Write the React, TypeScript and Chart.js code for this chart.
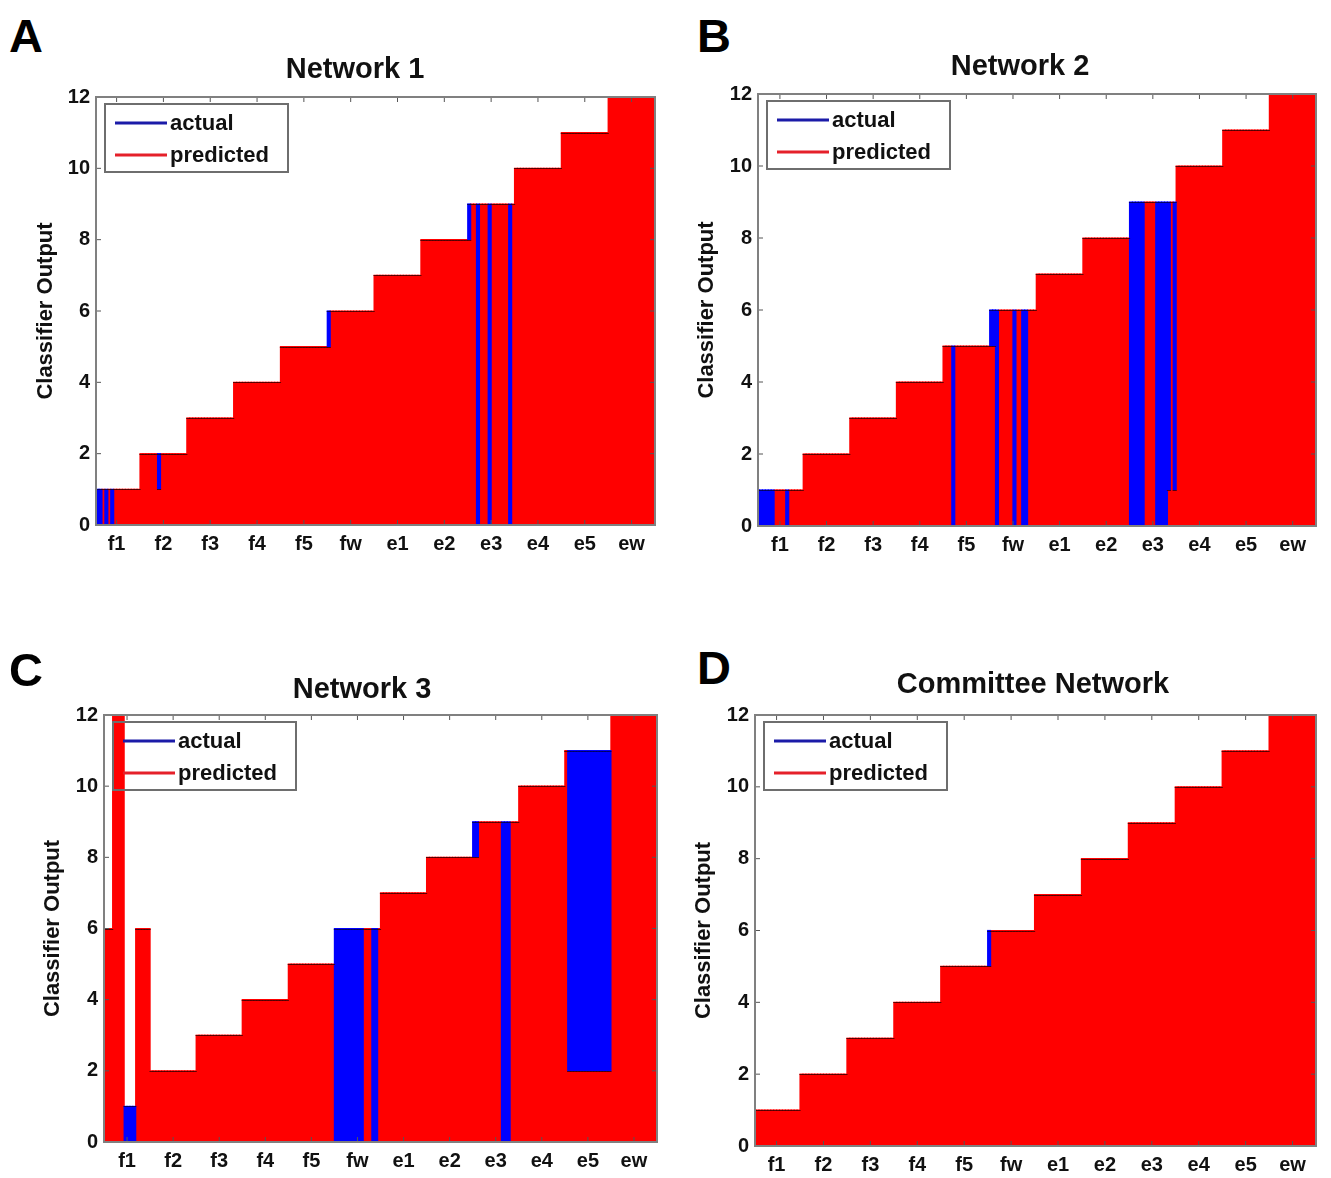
import React, { useEffect, useRef } from 'react';
import { Chart, registerables } from 'chart.js';

Chart.register(...registerables);

// ---------------- data ----------------
const classLabels = ['f1', 'f2', 'f3', 'f4', 'f5', 'fw', 'e1', 'e2', 'e3', 'e4', 'e5', 'ew'];
const classValues = [1, 2, 3, 4, 5, 6, 7, 8, 9, 10, 11, 12];
const samplesPerClass = [16, 16, 16, 16, 16, 16, 16, 16, 16, 16, 16, 16];
const yTicks = [0, 2, 4, 6, 8, 10, 12];

// misclassified runs: [classIndex, firstSample, lastSample, predictedValue]
const net1Runs = [
  [0, 0, 2, 0], [0, 4, 4, 0], [0, 6, 6, 0],
  [1, 6, 6, 1],
  [5, 0, 0, 5],
  [8, 0, 0, 8], [8, 3, 3, 0], [8, 7, 7, 0], [8, 14, 14, 0],
];
const net2Runs = [
  [0, 0, 5, 0], [0, 10, 10, 0],
  [4, 3, 3, 0],
  [5, 0, 1, 5], [5, 2, 2, 0], [5, 8, 8, 0], [5, 11, 12, 0],
  [8, 0, 4, 0], [8, 9, 12, 0], [8, 13, 13, 1], [8, 15, 15, 1],
];
const net3Runs = [
  [0, 0, 2, 6], [0, 3, 6, 12], [0, 7, 10, 0], [0, 11, 15, 6],
  [5, 0, 9, 0], [5, 13, 14, 0],
  [8, 0, 1, 8], [8, 10, 12, 0],
  [10, 1, 15, 2],
];
const net4Runs = [
  [5, 0, 0, 5],
];

// ---------------- styling ----------------
const FONT = '"Liberation Sans", Arial, Helvetica, sans-serif';
const BLUE = '#0000ff';
const RED = '#ff0000';

type Pt = { x: number; y: any };

function buildSeries(runs: number[][]) {
  // actual values that stay visible above the predicted bar are drawn as
  // floating bars [predicted, actual]; the predicted bars go from 0.
  const actual: Pt[] = [];
  const predicted: Pt[] = [];
  classValues.forEach((v, c) => {
    const n = samplesPerClass[c];
    for (let s = 0; s < n; s++) {
      const x = c + (s + 0.5) / n;
      let p = v;
      runs.forEach(([rc, a, b, pv]) => {
        if (rc === c && s >= a && s <= b) p = pv;
      });
      if (v > p) actual.push({ x, y: [p, v] });
      predicted.push({ x, y: p });
    }
  });
  return { actual, predicted };
}

type PanelCfg = {
  title: string;
  runs: number[][];
  canvas: { left: number; top: number; width: number; height: number };
  area: { l: number; t: number; r: number; b: number };
  yTitleX: number;
  xMin: number;
};

const panels: PanelCfg[] = [
  {
    title: 'Network 1', runs: net1Runs,
    canvas: { left: 0, top: 77, width: 670, height: 500 },
    area: { l: 96, t: 97, r: 655, b: 525 }, yTitleX: 46, xMin: 0.06,
  },
  {
    title: 'Network 2', runs: net2Runs,
    canvas: { left: 670, top: 74, width: 661, height: 500 },
    area: { l: 758, t: 94, r: 1316, b: 526 }, yTitleX: 707, xMin: 0.03,
  },
  {
    title: 'Network 3', runs: net3Runs,
    canvas: { left: 0, top: 695, width: 670, height: 483 },
    area: { l: 104, t: 715, r: 657, b: 1142 }, yTitleX: 53, xMin: 0,
  },
  {
    title: 'Committee Network', runs: net4Runs,
    canvas: { left: 670, top: 695, width: 661, height: 483 },
    area: { l: 755, t: 715, r: 1316, b: 1146 }, yTitleX: 704, xMin: 0.04,
  },
];

const framePlugin = {
  id: 'matlabFrame',
  afterDatasetsDraw(chart: any) {
    const { ctx, chartArea: a, scales } = chart;
    const line = (x1: number, y1: number, x2: number, y2: number) => {
      ctx.beginPath();
      ctx.moveTo(x1, y1);
      ctx.lineTo(x2, y2);
      ctx.stroke();
    };
    ctx.save();
    // dark outline along the top of each bar (line edges of the MATLAB plot)
    ctx.beginPath();
    ctx.rect(a.left, a.top - 1, a.right - a.left, a.bottom - a.top + 1);
    ctx.clip();
    chart.data.datasets.forEach((ds: any, i: number) => {
      const meta = chart.getDatasetMeta(i);
      ctx.strokeStyle = ds.edgeColor;
      ctx.lineWidth = 1;
      meta.data.forEach((el: any) => {
        const p = el.getProps(['x', 'y', 'width', 'base'], true);
        if (Math.abs(p.base - p.y) < 0.5) return;
        const yy = Math.round(p.y) + 0.5;
        line(p.x - p.width / 2 - 0.6, yy, p.x + p.width / 2 + 0.6, yy);
      });
    });
    ctx.restore();
    ctx.save();
    // inward ticks
    ctx.strokeStyle = '#555';
    ctx.lineWidth = 1;
    scales.x.ticks.forEach((t: any) => {
      const px = scales.x.getPixelForValue(t.value);
      line(px, a.top, px, a.top + 5);
      line(px, a.bottom, px, a.bottom - 5);
    });
    scales.y.ticks.forEach((t: any) => {
      const py = scales.y.getPixelForValue(t.value);
      line(a.left, py, a.left + 5, py);
      line(a.right, py, a.right - 5, py);
    });
    // box
    ctx.strokeStyle = '#808080';
    ctx.lineWidth = 2;
    ctx.strokeRect(a.left, a.top, a.right - a.left, a.bottom - a.top);
    // legend
    const lx = a.left + 9;
    const ly = a.top + 7;
    ctx.strokeStyle = '#6e6e6e';
    ctx.lineWidth = 2;
    ctx.strokeRect(lx, ly, 183, 68);
    chart.data.datasets.forEach((ds: any, i: number) => {
      const y = ly + 19 + i * 32;
      ctx.strokeStyle = ds.legendColor;
      ctx.lineWidth = 3;
      line(lx + 10, y, lx + 62, y);
      ctx.fillStyle = '#111';
      ctx.font = `bold 22px ${FONT}`;
      ctx.textBaseline = 'middle';
      ctx.textAlign = 'left';
      ctx.fillText(ds.label, lx + 65, y + 1);
    });
    ctx.restore();
  },
};

function Panel({ cfg }: { cfg: PanelCfg }) {
  const ref = useRef<HTMLCanvasElement>(null);
  useEffect(() => {
    if (!ref.current) return;
    const { actual, predicted } = buildSeries(cfg.runs);
    const c = cfg.canvas;
    const a = cfg.area;
    const yW = a.l - c.left;
    const xH = c.top + c.height - a.b;
    const padTop = a.t - c.top;
    const padRight = c.left + c.width - a.r;
    const titleLine = 22 * 1.2;
    const yTitlePad = cfg.yTitleX - c.left - titleLine / 2;
    const barCommon = {
      grouped: false,
      barPercentage: 1,
      categoryPercentage: 1,
      inflateAmount: 0.6,
      borderWidth: 0,
    };
    const chart = new Chart(ref.current, {
      type: 'bar',
      data: {
        datasets: [
          {
            ...barCommon,
            label: 'actual',
            data: actual,
            backgroundColor: BLUE,
            edgeColor: 'rgba(0,0,90,0.85)',
            legendColor: '#1b1ba8',
            order: 1,
          } as any,
          {
            ...barCommon,
            label: 'predicted',
            data: predicted,
            backgroundColor: RED,
            edgeColor: 'rgba(70,0,0,0.85)',
            legendColor: '#e5202a',
            order: 2,
          } as any,
        ],
      },
      options: {
        responsive: false,
        maintainAspectRatio: false,
        animation: false,
        devicePixelRatio: 1,
        layout: { padding: { top: padTop, right: padRight, left: 0, bottom: 0 } },
        plugins: {
          legend: { display: false },
          tooltip: { enabled: false },
          title: { display: false },
        },
        scales: {
          x: {
            type: 'linear',
            min: cfg.xMin,
            max: 12,
            offset: false,
            grid: { display: false, drawTicks: false },
            border: { display: false },
            afterBuildTicks: (s: any) => {
              s.ticks = classLabels.map((_, i) => ({ value: i + 0.5 }));
            },
            afterFit: (s: any) => {
              s.height = xH;
            },
            ticks: {
              autoSkip: false,
              maxRotation: 0,
              minRotation: 0,
              padding: 7,
              color: '#111',
              font: { family: FONT, size: 20, weight: 'bold' },
              callback: (_v: any, i: number) => classLabels[i],
            },
          },
          y: {
            min: 0,
            max: 12,
            grid: { display: false, drawTicks: false },
            border: { display: false },
            afterBuildTicks: (s: any) => {
              s.ticks = yTicks.map((v) => ({ value: v }));
            },
            afterFit: (s: any) => {
              s.width = yW;
            },
            ticks: {
              padding: 6,
              color: '#111',
              font: { family: FONT, size: 20, weight: 'bold' },
            },
            title: {
              display: true,
              text: 'Classifier Output',
              color: '#111',
              font: { family: FONT, size: 22, weight: 'bold', lineHeight: 1.2 },
              padding: { top: yTitlePad, bottom: 0 },
            },
          },
        },
      } as any,
      plugins: [framePlugin],
    });
    return () => chart.destroy();
  }, [cfg]);
  const c = cfg.canvas;
  return (
    <canvas
      ref={ref}
      width={c.width}
      height={c.height}
      style={{ position: 'absolute', left: c.left, top: c.top, width: c.width, height: c.height }}
    />
  );
}

const letters = [
  { t: 'A', x: 9, y: 12 },
  { t: 'B', x: 697, y: 12 },
  { t: 'C', x: 9, y: 646 },
  { t: 'D', x: 697, y: 644 },
];

const titles = [
  { t: 'Network 1', cx: 355, y: 54 },
  { t: 'Network 2', cx: 1020, y: 51 },
  { t: 'Network 3', cx: 362, y: 674 },
  { t: 'Committee Network', cx: 1033, y: 669 },
];

export default function App() {
  return (
    <div
      style={{
        position: 'absolute',
        left: 0,
        top: 0,
        width: 1331,
        height: 1178,
        background: '#fff',
        fontFamily: FONT,
        overflow: 'hidden',
      }}
    >
      {panels.map((p, i) => (
        <Panel key={i} cfg={p} />
      ))}
      {letters.map((l) => (
        <div
          key={l.t}
          style={{
            position: 'absolute',
            left: l.x,
            top: l.y,
            fontSize: 47,
            lineHeight: 1,
            fontWeight: 'bold',
            color: '#000',
          }}
        >
          {l.t}
        </div>
      ))}
      {titles.map((t) => (
        <div
          key={t.t}
          style={{
            position: 'absolute',
            left: t.cx - 250,
            width: 500,
            top: t.y,
            textAlign: 'center',
            fontSize: 29,
            lineHeight: 1,
            fontWeight: 'bold',
            color: '#111',
          }}
        >
          {t.t}
        </div>
      ))}
    </div>
  );
}
